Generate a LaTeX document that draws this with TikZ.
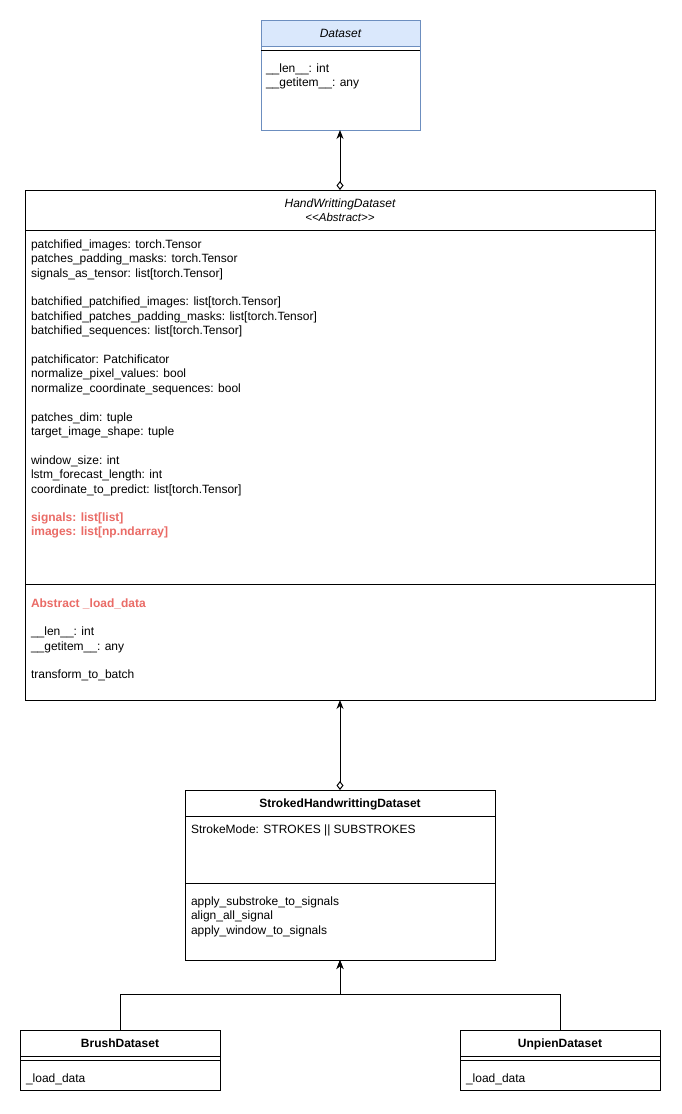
\documentclass[tikz,border=0pt]{standalone}
\usepackage{fontspec}
\setmainfont{Liberation Sans}
\usetikzlibrary{arrows.meta}
\definecolor{hdrfill}{HTML}{DAE8FC}
\definecolor{hdrline}{HTML}{6C8EBF}
\definecolor{redtxt}{HTML}{EA6B66}
\newcommand{\mainsz}{\fontsize{12pt}{14.4pt}\selectfont}
\begin{document}
\begin{tikzpicture}[x=1pt,y=-1pt,line width=1pt,font=\mainsz,
  box/.style={draw, line width=1pt, anchor=north west, inner sep=0pt, outer sep=0pt},
  attr/.style={anchor=base west, inner sep=0pt, outer sep=0pt},
  ttl/.style={anchor=base, inner sep=0pt, outer sep=0pt},
  redb/.style={attr, text=redtxt, font=\mainsz\bfseries},
  inh/.style={{Diamond[open,length=9pt,width=7pt]}-{Stealth[length=9pt,width=7pt]}},
  gen/.style={-{Stealth[length=9pt,width=7pt]}}]
\useasboundingbox[fill=white] (0,0) rectangle (681,1114);

% ---------- Dataset ----------
\fill[hdrfill] (261,20) rectangle (420,46);
\node[box, draw=hdrline, minimum width=159pt, minimum height=110pt] (ds) at (261,20) {};
\draw[hdrline] (261,46) -- (420,46);
\draw (261,50) -- (420,50);
\node[ttl, font=\mainsz\itshape] (dst) at (340.5,37.3) {Dataset};
\node[attr] (ds1) at (266,72.3) {\_\_len\_\_: int};
\node[attr] (ds2) at (266,86.5) {\_\_getitem\_\_: any};

% ---------- HandWrittingDataset ----------
\node[box, minimum width=630pt, minimum height=510pt] (hw) at (25,190) {};
\draw (25,230) -- (655,230);
\draw (25,584) -- (655,584);
\node[ttl, font=\mainsz\itshape] (hwt) at (340,207.3) {HandWrittingDataset};
\node[ttl, font=\fontsize{11.5pt}{13pt}\selectfont\itshape] (hws) at (340,221) {\textless\kern0pt\textless\kern0pt Abstract\kern0pt\textgreater\kern0pt\textgreater};
\foreach \t [count=\k from 0] in {
  patchified\_images: torch.Tensor,
  patches\_padding\_masks: torch.Tensor,
  signals\_as\_tensor: list[torch.Tensor],
  {},
  batchified\_patchified\_images: list[torch.Tensor],
  batchified\_patches\_padding\_masks: list[torch.Tensor],
  batchified\_sequences: list[torch.Tensor],
  {},
  patchificator: Patchificator,
  normalize\_pixel\_values: bool,
  normalize\_coordinate\_sequences: bool,
  {},
  patches\_dim: tuple,
  target\_image\_shape: tuple,
  {},
  window\_size: int,
  lstm\_forecast\_length: int,
  coordinate\_to\_predict: list[torch.Tensor]}
  \node[attr] (hwa\k) at (31,248.3+14.4*\k) {\t};
\node[redb] (hwr1) at (31,521.5) {signals: list[list]};
\node[redb] (hwr2) at (31,535.9) {images: list[np.ndarray]};
\node[redb] (hwm1) at (31,607.3) {Abstract \_load\_data};
\node[attr] (hwm2) at (31,635.8) {\_\_len\_\_: int};
\node[attr] (hwm3) at (31,650.2) {\_\_getitem\_\_: any};
\node[attr] (hwm4) at (31,678.8) {transform\_to\_batch};

% ---------- StrokedHandwrittingDataset ----------
\node[box, minimum width=310pt, minimum height=170pt] (sd) at (185,790) {};
\draw (185,816) -- (495,816);
\draw (185,883) -- (495,883);
\node[ttl, font=\mainsz\bfseries] (sdt) at (340,807.3) {StrokedHandwrittingDataset};
\node[attr] (sd1) at (191,833.3) {StrokeMode: STROKES || SUBSTROKES};
\node[attr] (sd2) at (191,905.5) {apply\_substroke\_to\_signals};
\node[attr] (sd3) at (191,919.9) {align\_all\_signal};
\node[attr] (sd4) at (191,934.3) {apply\_window\_to\_signals};

% ---------- BrushDataset ----------
\node[box, minimum width=200pt, minimum height=60pt] (br) at (20,1030) {};
\draw (20,1056.5) -- (220,1056.5);
\draw (20,1060) -- (220,1060);
\node[ttl, font=\mainsz\bfseries] (brt) at (120,1047.5) {BrushDataset};
\node[attr] (br1) at (26,1082.3) {\_load\_data};

% ---------- UnpienDataset ----------
\node[box, minimum width=200pt, minimum height=60pt] (up) at (460,1030) {};
\draw (460,1056.5) -- (660,1056.5);
\draw (460,1060) -- (660,1060);
\node[ttl, font=\mainsz\bfseries] (upt) at (560,1047.5) {UnpienDataset};
\node[attr] (up1) at (466,1082.3) {\_load\_data};

% ---------- connectors ----------
\draw[inh] (hw.north) -- (hw.north |- ds.south);
\draw[inh] (sd.north) -- (hw.south);
\coordinate (jn) at (340,994);
\draw[gen] (br.north) |- (jn) -- (sd.south);
\draw[gen] (up.north) |- (jn) -- (sd.south);
\end{tikzpicture}
\end{document}
